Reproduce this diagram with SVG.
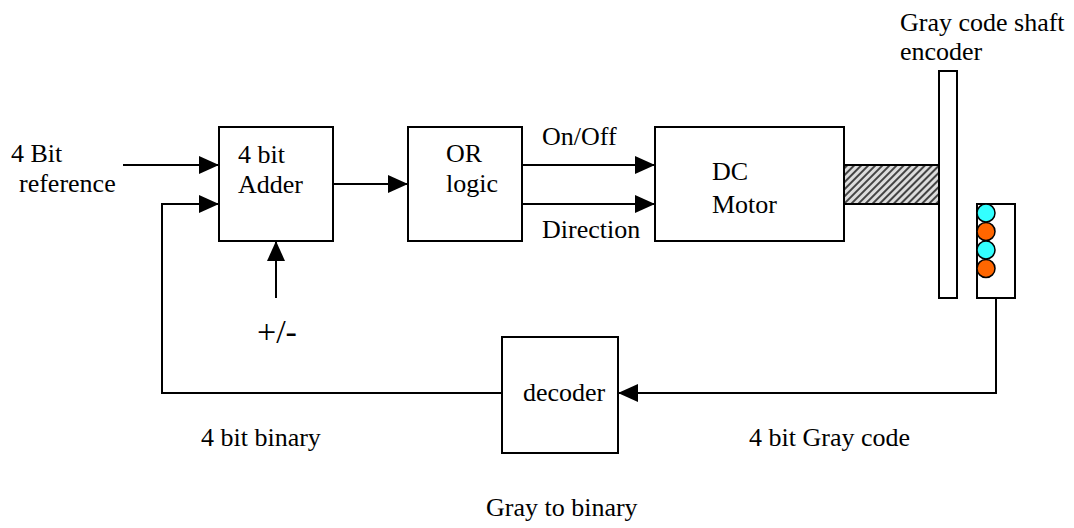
<svg xmlns="http://www.w3.org/2000/svg" width="1074" height="528" viewBox="0 0 1074 528">
<style>
.box{fill:#fff;stroke:#000;stroke-width:2}
.ln{fill:none;stroke:#000;stroke-width:2}
.t{font-family:"Liberation Serif","Times New Roman",serif;font-size:26px;fill:#000}
.s{font-family:"Liberation Serif","Times New Roman",serif;font-size:34px;fill:#000}
</style>
<defs>
<marker id="ah" markerUnits="userSpaceOnUse" markerWidth="20" markerHeight="18" refX="20" refY="9" orient="auto">
<path d="M0,0 L20,9 L0,18 Z" fill="#000"/>
</marker>
<pattern id="hatch" patternUnits="userSpaceOnUse" width="5" height="5" patternTransform="rotate(45)">
<rect width="5" height="5" fill="#ddd"/>
<rect x="0" y="0" width="2" height="5" fill="#444"/>
</pattern>
</defs>
<g id="connectors">
<line class="ln" x1="123" y1="165" x2="219" y2="165" marker-end="url(#ah)"/>
<polyline class="ln" points="502,393 162,393 162,204 219,204" marker-end="url(#ah)"/>
<line class="ln" x1="276" y1="298" x2="276" y2="241" marker-end="url(#ah)"/>
<line class="ln" x1="333" y1="184" x2="408" y2="184" marker-end="url(#ah)"/>
<line class="ln" x1="522" y1="165" x2="655" y2="165" marker-end="url(#ah)"/>
<line class="ln" x1="522" y1="204" x2="655" y2="204" marker-end="url(#ah)"/>
<polyline class="ln" points="996,298 996,393 618,393" marker-end="url(#ah)"/>
</g>
<g id="labels">
<text class="t" x="11" y="162">4 Bit</text>
<text class="t" x="19" y="192">reference</text>
<text class="t" x="542" y="145">On/Off</text>
<text class="t" x="542" y="238">Direction</text>
<text class="s" x="257" y="343">+/-</text>
<text class="t" x="201" y="446">4 bit binary</text>
<text class="t" x="749" y="446">4 bit Gray code</text>
<text class="t" x="486" y="516">Gray to binary</text>
<text class="t" x="900" y="31">Gray code shaft</text>
<text class="t" x="900" y="60">encoder</text>
</g>
<g id="adder">
<rect class="box" x="219" y="127" width="114" height="114"/>
<text class="t" x="238" y="163">4 bit</text>
<text class="t" x="238" y="193">Adder</text>
</g>
<g id="or-logic">
<rect class="box" x="408" y="127" width="114" height="114"/>
<text class="t" x="446" y="162">OR</text>
<text class="t" x="446" y="192">logic</text>
</g>
<g id="dc-motor">
<rect class="box" x="655" y="127" width="189" height="114"/>
<text class="t" x="712" y="180">DC</text>
<text class="t" x="712" y="213">Motor</text>
</g>
<g id="shaft">
<rect x="844" y="165" width="95" height="39" fill="url(#hatch)" stroke="#000" stroke-width="2"/>
</g>
<g id="encoder-disc">
<rect class="box" x="939" y="71" width="18" height="227"/>
</g>
<g id="sensor">
<rect class="box" x="977" y="204" width="38" height="94"/>
<circle cx="986" cy="213" r="9" fill="#33ffff" stroke="#000" stroke-width="1.5"/>
<circle cx="986" cy="231.5" r="9" fill="#ff6600" stroke="#000" stroke-width="1.5"/>
<circle cx="986" cy="250" r="9" fill="#33ffff" stroke="#000" stroke-width="1.5"/>
<circle cx="986" cy="268.5" r="9" fill="#ff6600" stroke="#000" stroke-width="1.5"/>
</g>
<g id="decoder">
<rect class="box" x="502" y="337" width="116" height="116"/>
<text class="t" x="523" y="401">decoder</text>
</g>
</svg>
